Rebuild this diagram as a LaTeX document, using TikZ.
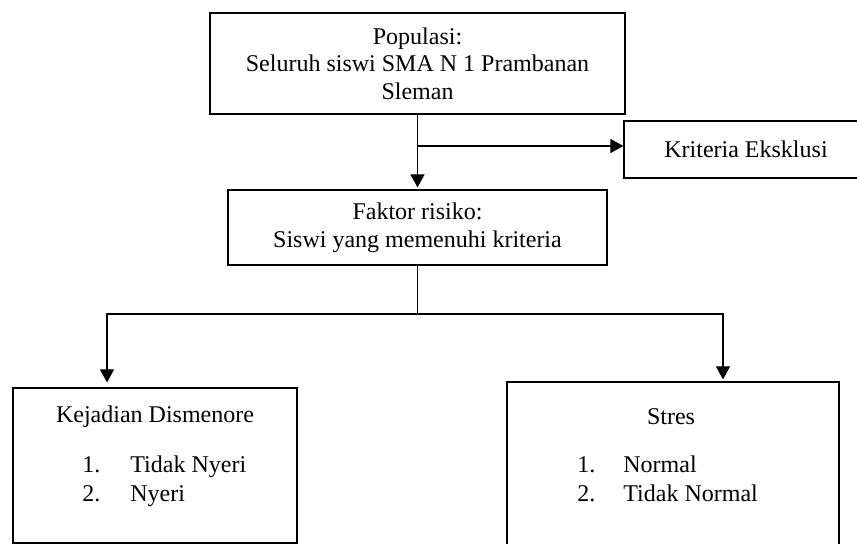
\documentclass[tikz,border=0pt]{standalone}
\usepackage{fontspec}
\setmainfont{Liberation Serif}
\usetikzlibrary{arrows.meta}

\begin{document}
\begin{tikzpicture}[
    x=0.5pt, y=-0.5pt,
    box/.style={rectangle, draw=black, line width=0.6pt, align=center, inner sep=0pt, font=\fontsize{12}{13.8}\selectfont},
    txt/.style={align=left, inner sep=0pt, font=\fontsize{12}{14.5}\selectfont},
    arr/.style={-{Triangle[length=6.5pt,width=7pt]}, line width=0.6pt}
]
\useasboundingbox (0,0) rectangle (857,544);

\node[box, minimum width=207.5pt, minimum height=50.5pt] (pop) at (417.5,63.5) {Populasi:\\Seluruh siswi SMA N 1 Prambanan\\Sleman};
\node[box, minimum width=122pt, minimum height=28.5pt] (kri) at (746,149.5) {Kriteria Eksklusi};
\node[box, minimum width=189.5pt, minimum height=37.5pt] (fak) at (417.5,227.5) {Faktor risiko:\\Siswi yang memenuhi kriteria};
\node[box, minimum width=142pt, minimum height=77.5pt] (dis) at (155,465.5) {};
\node[box, minimum width=166pt, minimum height=84pt] (str) at (673,466) {};

% isi kotak bawah
\node[txt] (dishead) at (155,417) {Kejadian Dismenore};
\node[txt, anchor=west] (dislist) at (82,481.5) {\begin{tabular}{@{}p{24pt}@{}l@{}}1. & Tidak Nyeri\\2. & Nyeri\end{tabular}};
\node[txt] (strhead) at (671,417) {Stres};
\node[txt, anchor=west] (strlist) at (577,481.5) {\begin{tabular}{@{}p{23pt}@{}l@{}}1. & Normal\\2. & Tidak Normal\end{tabular}};

% populasi ke faktor risiko dan eksklusi
\coordinate (split) at (417.5,146);
\draw[arr, shorten >=1pt] (pop) -- (fak);
\draw[arr] (split) -- (split -| kri.west);

% cabang ke variabel
\coordinate (jl) at (107,314);
\coordinate (jr) at (723,314);
\draw[line width=0.6pt] (fak.south) -- (fak.south |- jl);
\draw[{Triangle[length=6.5pt,width=7pt]}-{Triangle[length=6.5pt,width=7pt]}, line width=0.6pt, shorten <=2.5pt, shorten >=1pt] (jl |- dis.north) -- (jl) -- (jr) -- (jr |- str.north);

\end{tikzpicture}
\end{document}
